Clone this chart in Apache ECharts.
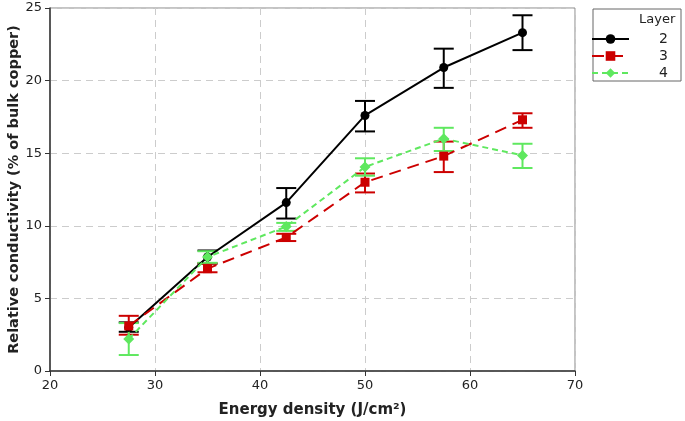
<!DOCTYPE html>
<html>
<head>
<meta charset="utf-8">
<script src="https://cdn.jsdelivr.net/npm/echarts@6/dist/echarts.min.js"></script>
<style>
  html, body { margin: 0; padding: 0; background: #fff; }
  #chart { width: 685px; height: 421px; }
</style>
</head>
<body>
<div id="chart"></div>
<script>
// energy density (J/cm2)
var energy = [27.5, 35, 42.5, 50, 57.5, 65];

// layer 2
var layer2 = [3.0, 7.85, 11.6, 17.6, 20.9, 23.3];
var layer2Lo = [2.7, 7.4, 10.5, 16.5, 19.5, 22.1];
var layer2Hi = [3.35, 8.3, 12.6, 18.6, 22.2, 24.5];

// layer 3
var layer3 = [3.1, 7.05, 9.2, 13.0, 14.8, 17.3];
var layer3Lo = [2.5, 6.8, 8.95, 12.3, 13.7, 16.75];
var layer3Hi = [3.8, 7.4, 9.45, 13.6, 15.8, 17.75];

// layer 4
var layer4 = [2.2, 7.85, 9.95, 14.05, 16.0, 14.85];
var layer4Lo = [1.1, 7.45, 9.65, 13.45, 15.15, 13.98];
var layer4Hi = [3.3, 8.25, 10.2, 14.65, 16.75, 15.65];

var colors = ['#000000', '#cc0000', '#5fe85f'];

var chart = echarts.init(document.getElementById('chart'));

function pts(vals) {
  return energy.map(function (x, i) { return [x, vals[i]]; });
}
function errData(lo, hi) {
  return energy.map(function (x, i) { return [x, lo[i], hi[i]]; });
}
//误差线
function errSeries(name, lo, hi, color, z) {
  return {
    name: name,
    type: 'custom',
    z: z,
    silent: true,
    renderItem: function (params, api) {
      var x = api.value(0);
      var top = api.coord([x, api.value(2)]);
      var bot = api.coord([x, api.value(1)]);
      var hw = 10;
      var style = { stroke: color, lineWidth: 2, fill: null };
      return {
        type: 'group',
        children: [
          { type: 'line', shape: { x1: top[0], y1: top[1], x2: bot[0], y2: bot[1] }, style: style },
          { type: 'line', shape: { x1: top[0] - hw, y1: top[1], x2: top[0] + hw, y2: top[1] }, style: style },
          { type: 'line', shape: { x1: bot[0] - hw, y1: bot[1], x2: bot[0] + hw, y2: bot[1] }, style: style }
        ]
      };
    },
    encode: { x: 0, y: [1, 2] },
    data: errData(lo, hi)
  };
}

var option = {
  animation: false,
  textStyle: { fontFamily: 'DejaVu Sans' },
  grid: {
    left: 50, right: 110, top: 8, bottom: 50,
    outerBoundsMode: 'none',
    containLabel: false,
    show: true, borderColor: '#888', borderWidth: 1
  },
  legend: {
    data: ['2', '3', '4'],
    orient: 'vertical',
    left: 591,
    top: 32,
    itemWidth: 37,
    itemHeight: 12,
    itemGap: 3,
    padding: 0,
    formatter: function (name) { return '{a|' + name + '}'; },
    textStyle: {
      color: '#222',
      fontSize: 14,
      rich: { a: { width: 34, align: 'right', fontSize: 14, color: '#222' } }
    }
  },
  graphic: [
    {
      type: 'rect',
      shape: { x: 593, y: 9, width: 88, height: 72 },
      style: { fill: '#fff', stroke: '#666', lineWidth: 1 },
      z: -1
    },
    {
      type: 'text',
      left: 639, top: 13,
      style: { text: 'Layer', fontSize: 13, fill: '#222', fontFamily: 'DejaVu Sans' }
    }
  ],
  xAxis: {
    type: 'value',
    min: 20, max: 70, interval: 10,
    name: 'Energy density (J/cm²)',
    nameLocation: 'middle',
    nameGap: 32,
    nameTextStyle: { fontSize: 15, fontWeight: 'bold', color: '#222' },
    axisLine: { lineStyle: { color: '#333', width: 1.5 } },
    axisTick: { show: true, length: 5, lineStyle: { color: '#333' } },
    axisLabel: { fontSize: 13, color: '#222', margin: 8 },
    splitLine: { show: true, lineStyle: { type: [7, 5], color: '#ccc' } }
  },
  yAxis: {
    type: 'value',
    min: 0, max: 25, interval: 5,
    name: 'Relative conductivity (% of bulk copper)',
    nameLocation: 'middle',
    nameGap: 28,
    nameMoveOverlap: false,
    nameTextStyle: { fontSize: 14.5, fontWeight: 'bold', color: '#222' },
    axisLine: { show: true, lineStyle: { color: '#333', width: 1.5 } },
    axisTick: { show: true, length: 5, lineStyle: { color: '#333' } },
    axisLabel: { fontSize: 13, color: '#222', margin: 8 },
    splitLine: { show: true, lineStyle: { type: [7, 5], color: '#ccc' } }
  },
  series: [
    errSeries('2 err', layer2Lo, layer2Hi, colors[0], 3),
    errSeries('3 err', layer3Lo, layer3Hi, colors[1], 3),
    errSeries('4 err', layer4Lo, layer4Hi, colors[2], 3),
    {
      name: '2', type: 'line', z: 4,
      symbol: 'circle', symbolSize: 9,
      itemStyle: { color: colors[0] },
      lineStyle: { color: colors[0], width: 2 },
      data: pts(layer2)
    },
    {
      name: '3', type: 'line', z: 4,
      symbol: 'rect', symbolSize: 9,
      itemStyle: { color: colors[1] },
      lineStyle: { color: colors[1], width: 2, type: [12, 7] },
      data: pts(layer3)
    },
    {
      name: '4', type: 'line', z: 4,
      symbol: 'diamond', symbolSize: 11,
      itemStyle: { color: colors[2] },
      lineStyle: { color: colors[2], width: 2, type: [6, 4] },
      data: pts(layer4)
    }
  ]
};

chart.setOption(option);
</script>
</body>
</html>
